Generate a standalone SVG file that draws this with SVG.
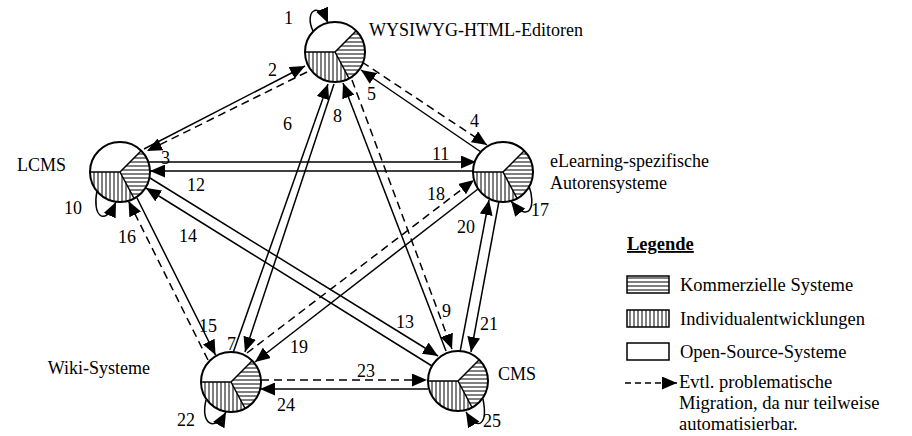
<svg xmlns="http://www.w3.org/2000/svg" xmlns:xlink="http://www.w3.org/1999/xlink" width="912" height="436" viewBox="0 0 912 436">
<style>
text{font-family:"Liberation Serif","Times New Roman",serif;fill:#000}
.lbl{font-size:18px}
.num{font-size:18px}
.leg{font-size:18.5px}
.c{stroke:#000;stroke-width:1.5;fill:none}
.d{stroke:#000;stroke-width:1.5;fill:none;stroke-dasharray:8 5}
.a{marker-end:url(#ah)}
.box{stroke:#000;stroke-width:1.5}
</style>
<defs>
<pattern id="hs" patternUnits="userSpaceOnUse" width="8" height="4"><line x1="0" y1="2" x2="8" y2="2" stroke="#000" stroke-width="1"/></pattern>
<pattern id="vs" patternUnits="userSpaceOnUse" width="4" height="8"><line x1="2" y1="0" x2="2" y2="8" stroke="#000" stroke-width="1"/></pattern>
<marker id="ah" viewBox="0 0 15 13" refX="15" refY="6.5" markerWidth="15" markerHeight="13" markerUnits="userSpaceOnUse" orient="auto"><path d="M0,0 L15,6.5 L0,13 z" fill="#000"/></marker>
<g id="pie">
<path d="M0,0 L-30,0 A30,30 0 0 1 21.2,-21.2 Z" fill="#fff"/>
<path d="M0,0 L21.2,-21.2 A30,30 0 0 1 14.1,26.5 Z" fill="url(#hs)"/>
<path d="M0,0 L14.1,26.5 A30,30 0 0 1 -30,0 Z" fill="url(#vs)"/>
<path d="M-30,0 L0,0 L21.2,-21.2 M0,0 L14.1,26.5" stroke="#000" stroke-width="1.5" fill="none"/>
<circle r="30" fill="none" stroke="#000" stroke-width="2"/>
</g>
</defs>
<rect width="912" height="436" fill="#fff"/>

<g id="connectors">
<path class="c a" d="M144,149 L305,66"/>
<path class="d a" d="M307,72 L147,151"/>
<path class="d a" d="M362,62 L487,145"/>
<path class="c a" d="M481,152 L361,70"/>
<path class="c a" d="M233,353 L328,84"/>
<path class="c a" d="M334,84 L245,352"/>
<path class="c a" d="M446,351 L343,83"/>
<path class="d a" d="M352,80 L452,349"/>
<path class="c a" d="M149,162 L476,162"/>
<path class="c a" d="M475,171 L150,171"/>
<path class="c a" d="M150,178 L438,356"/>
<path class="c a" d="M432,366 L146,188"/>
<path class="c a" d="M137,198 L215.5,355"/>
<path class="d a" d="M208,360 L128.5,201"/>
<path class="d a" d="M247,353 L474,180"/>
<path class="c a" d="M478,189 L255,362"/>
<path class="c a" d="M460,352 L489,200"/>
<path class="c a" d="M499,201 L471,352"/>
<path class="d a" d="M261,380 L427,380"/>
<path class="c a" d="M428,389 L260,389"/>
<path class="c a" d="M313,31 C304,12 318,0 328,23"/>
<path class="c a" d="M97,191 C92,215 104,228 116,202"/>
<path class="c a" d="M529,186 C536,205 530,225 511,201"/>
<path class="c a" d="M206,400 C200,425 215,432 226,412"/>
<path class="c a" d="M483,399 C488,425 478,432 466,412"/>
</g>

<g id="edge-labels">
<text class="num" x="284" y="24">1</text>
<text class="num" x="268" y="76">2</text>
<text class="num" x="161" y="164">3</text>
<text class="num" x="470" y="127">4</text>
<text class="num" x="367" y="100">5</text>
<text class="num" x="283" y="130">6</text>
<text class="num" x="227" y="350">7</text>
<text class="num" x="333" y="122">8</text>
<text class="num" x="442" y="317">9</text>
<text class="num" x="64" y="214">10</text>
<text class="num" x="432" y="160">11</text>
<text class="num" x="187" y="191">12</text>
<text class="num" x="396" y="328">13</text>
<text class="num" x="179" y="242">14</text>
<text class="num" x="199" y="332">15</text>
<text class="num" x="118" y="243">16</text>
<text class="num" x="531" y="216">17</text>
<text class="num" x="427" y="200">18</text>
<text class="num" x="290" y="353">19</text>
<text class="num" x="457" y="233">20</text>
<text class="num" x="480" y="330">21</text>
<text class="num" x="177" y="426">22</text>
<text class="num" x="357" y="377">23</text>
<text class="num" x="277" y="411">24</text>
<text class="num" x="483" y="427">25</text>
</g>

<g id="node-wysiwyg">
<use xlink:href="#pie" href="#pie" transform="translate(335,52)"/>
<text class="lbl" x="369" y="36">WYSIWYG-HTML-Editoren</text>
</g>
<g id="node-lcms">
<use xlink:href="#pie" href="#pie" transform="translate(120,172)"/>
<text class="lbl" x="66" y="171" text-anchor="end">LCMS</text>
</g>
<g id="node-elearning">
<use xlink:href="#pie" href="#pie" transform="translate(503,172)"/>
<text class="lbl" x="550" y="167">eLearning-spezifische</text>
<text class="lbl" x="550" y="189">Autorensysteme</text>
</g>
<g id="node-wiki">
<use xlink:href="#pie" href="#pie" transform="translate(231,382)"/>
<text class="lbl" x="150" y="374" text-anchor="end">Wiki-Systeme</text>
</g>
<g id="node-cms">
<use xlink:href="#pie" href="#pie" transform="translate(458,381)"/>
<text class="lbl" x="498" y="380">CMS</text>
</g>

<g id="legend">
<text class="leg" x="627" y="250" font-weight="bold" text-decoration="underline">Legende</text>
<rect class="box" x="627" y="276" width="42" height="17" fill="url(#hs)"/>
<text class="leg" x="680" y="291">Kommerzielle Systeme</text>
<rect class="box" x="627" y="310" width="42" height="17" fill="url(#vs)"/>
<text class="leg" x="680" y="325">Individualentwicklungen</text>
<rect class="box" x="627" y="343" width="42" height="17" fill="#fff"/>
<text class="leg" x="680" y="358">Open-Source-Systeme</text>
<path d="M625,383 L677,383" stroke="#000" stroke-width="1.5" stroke-dasharray="6 4" marker-end="url(#ah)"/>
<text class="leg" x="679" y="388">Evtl. problematische</text>
<text class="leg" x="679" y="409">Migration, da nur teilweise</text>
<text class="leg" x="679" y="430">automatisierbar.</text>
</g>
</svg>
